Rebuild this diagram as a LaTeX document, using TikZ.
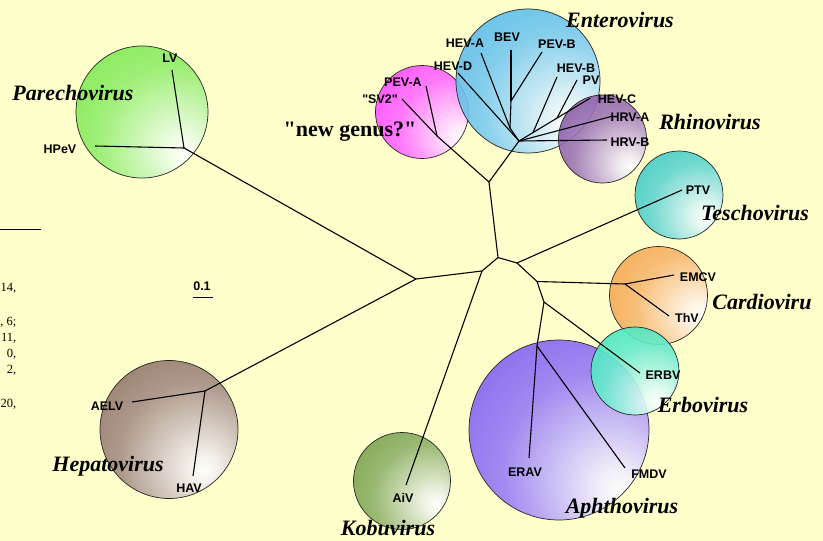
\documentclass[tikz,border=0pt]{standalone}
\usepackage{fontspec}
\setmainfont{Liberation Serif}
\newfontfamily\labfont{Liberation Sans}
\definecolor{bgcol}{HTML}{FFFFCC}
\definecolor{cpar}{HTML}{72E840}
\definecolor{chep}{HTML}{86675A}
\definecolor{ckob}{HTML}{6A9838}
\definecolor{caph}{HTML}{7552F2}
\definecolor{cerb}{HTML}{34E4BA}
\definecolor{ccar}{HTML}{F5A040}
\definecolor{ctes}{HTML}{2CC6C0}
\definecolor{crhi}{HTML}{7E4A9E}
\definecolor{cent}{HTML}{48B6EA}
\definecolor{cnew}{HTML}{FF3CFF}
\newcommand\virshade[4]{\pgfdeclareradialshading{#1}{\pgfpoint{#2bp}{#3bp}}{color(0bp)=(white); color(5bp)=(white!90!#4); color(28bp)=(#4!75!white); color(48bp)=(#4); color(100bp)=(#4)}}
\virshade{shpar}{16}{-16}{cpar}
\virshade{shhep}{13}{-15}{chep}
\virshade{shkob}{18}{-12}{ckob}
\virshade{shaph}{17}{-17}{caph}
\virshade{sherb}{13}{-18}{cerb}
\virshade{shcar}{22}{-10}{ccar}
\virshade{shtes}{16}{-13}{ctes}
\virshade{shrhi}{16}{-16}{crhi}
\virshade{shent}{15}{-15}{cent}
\virshade{shnew}{22}{-14}{cnew}
\begin{document}
\begin{tikzpicture}[x=1pt,y=-1pt,
  branch/.style={line width=1.1pt, black},
  vlabel/.style={font=\labfont\bfseries\fontsize{12.5}{13}\selectfont, inner sep=0pt},
  genus/.style={font=\bfseries\itshape\fontsize{22}{24}\selectfont, inner sep=0pt},
  plain/.style={font=\bfseries\fontsize{22}{24}\selectfont, inner sep=0pt},
  frag/.style={font=\fontsize{12.5}{13}\selectfont, inner sep=0pt, anchor=east},
  clade/.style={circle, draw=black!85, line width=0.7pt, fill opacity=0.9, inner sep=0pt, shade}]
\useasboundingbox (0,0) rectangle (823,541);
\fill[bgcol] (0,0) rectangle (823,541);

% clade circles
\node[clade, minimum size=132pt, shading=shpar] (cPar) at (142,112) {};
\node[clade, minimum size=138pt, shading=shhep] (cHep) at (169,429.5) {};
\node[clade, minimum size=97pt, shading=shkob] (cKob) at (402,481) {};
\node[clade, minimum size=180pt, shading=shaph] (cAph) at (559,430) {};
\node[clade, minimum size=98pt, shading=shcar] (cCar) at (658.5,295.5) {};
\node[clade, minimum size=88pt, shading=sherb] (cErb) at (635,371) {};
\node[clade, minimum size=88pt, shading=shtes] (cTes) at (679,195) {};
\node[clade, minimum size=93pt, shading=shnew] (cNew) at (422,112) {};
\node[clade, minimum size=144pt, shading=shent] (cEnt) at (528,81) {};
\node[clade, minimum size=88pt, shading=shrhi] (cRhi) at (602.5,139) {};

% internal tree coordinates
\coordinate (C0) at (498,257.5);
\coordinate (N1) at (489,182);
\coordinate (E0) at (519,141);
\coordinate (Ea) at (510,128);
\coordinate (Eb) at (511,101);
\coordinate (Ed) at (533,132.6);
\coordinate (Ee) at (557,118.1);
\coordinate (G0) at (437,136);
\coordinate (L1) at (482,271);
\coordinate (L2) at (416,279);
\coordinate (Pn) at (184,148);
\coordinate (Hn) at (205,391);
\coordinate (R1) at (517,263);
\coordinate (R2) at (537,281.5);
\coordinate (Cn) at (625,284);
\coordinate (R3) at (544,302);
\coordinate (An) at (537,346);
% leaf ends
\coordinate (LVe) at (172,70);
\coordinate (HPeVe) at (95,146);
\coordinate (AELVe) at (132,402);
\coordinate (HAVe) at (193,476);
\coordinate (AiVe) at (406,485);
\coordinate (ERAVe) at (529,458);
\coordinate (FMDVe) at (625,468);
\coordinate (ERBVe) at (640,373);
\coordinate (EMCVe) at (674,275);
\coordinate (ThVe) at (669,316);
\coordinate (PTVe) at (682,190);
\coordinate (HRVBe) at (607,140);
\coordinate (HRVAe) at (613,116);
\coordinate (HEVCe) at (590,98.3);
\coordinate (PVe) at (577,80);
\coordinate (HEVBe) at (557,77);
\coordinate (PEVBe) at (542,52);
\coordinate (BEVe) at (511,50);
\coordinate (HEVAe) at (481,53);
\coordinate (HEVDe) at (458,73);
\coordinate (PEVAe) at (426,86);
\coordinate (SV2e) at (402,99);

% branches
\draw[branch] (C0) -- (N1);
\draw[branch] (N1) -- (E0);
\draw[branch] (N1) -- (G0);
\draw[branch] (G0) -- (PEVAe);
\draw[branch] (G0) -- (SV2e);
\draw[branch] (E0) -- (HRVBe);
\draw[branch] (E0) -- (HRVAe);
\draw[branch] (E0) -- (Ed);
\draw[branch] (Ed) -- (Ee);
\draw[branch] (Ee) -- (HEVCe);
\draw[branch] (Ee) -- (PVe);
\draw[branch] (Ed) -- (HEVBe);
\draw[branch] (E0) -- (Ea);
\draw[branch] (Ea) -- (HEVAe);
\draw[branch] (Ea) -- (Eb);
\draw[branch] (Eb) -- (BEVe);
\draw[branch] (Eb) -- (PEVBe);
\draw[branch] (E0) -- (HEVDe);
\draw[branch] (C0) -- (L1);
\draw[branch] (L1) -- (L2);
\draw[branch] (L1) -- (AiVe);
\draw[branch] (L2) -- (Pn);
\draw[branch] (Pn) -- (LVe);
\draw[branch] (Pn) -- (HPeVe);
\draw[branch] (L2) -- (Hn);
\draw[branch] (Hn) -- (AELVe);
\draw[branch] (Hn) -- (HAVe);
\draw[branch] (C0) -- (R1);
\draw[branch] (R1) -- (PTVe);
\draw[branch] (R1) -- (R2);
\draw[branch] (R2) -- (Cn);
\draw[branch] (Cn) -- (EMCVe);
\draw[branch] (Cn) -- (ThVe);
\draw[branch] (R2) -- (R3);
\draw[branch] (R3) -- (ERBVe);
\draw[branch] (R3) -- (An);
\draw[branch] (An) -- (ERAVe);
\draw[branch] (An) -- (FMDVe);

% virus labels
\node[vlabel] (tLV) at (170,58) {LV};
\node[vlabel] (tHPeV) at (60,149) {HPeV};
\node[vlabel] (tAELV) at (107,406) {AELV};
\node[vlabel] (tHAV) at (189,488) {HAV};
\node[vlabel] (tAiV) at (403,498) {AiV};
\node[vlabel] (tERAV) at (525,472) {ERAV};
\node[vlabel] (tFMDV) at (649,474) {FMDV};
\node[vlabel] (tERBV) at (663,375) {ERBV};
\node[vlabel] (tEMCV) at (698,277) {EMCV};
\node[vlabel] (tThV) at (687,318) {ThV};
\node[vlabel] (tPTV) at (698,190) {PTV};
\node[vlabel] (tHRVB) at (630,142) {HRV-B};
\node[vlabel] (tHRVA) at (630,117) {HRV-A};
\node[vlabel] (tHEVC) at (617,99) {HEV-C};
\node[vlabel] (tPV) at (591,80) {PV};
\node[vlabel] (tHEVB) at (576,68) {HEV-B};
\node[vlabel] (tPEVB) at (557,44) {PEV-B};
\node[vlabel] (tBEV) at (507,37) {BEV};
\node[vlabel] (tHEVA) at (465,43) {HEV-A};
\node[vlabel] (tHEVD) at (453,66) {HEV-D};
\node[vlabel] (tPEVA) at (403,82) {PEV-A};
\node[vlabel] (tSV2) at (380,99) {\textquotedbl SV2\textquotedbl};

% genus labels
\node[genus] (gPar) at (73,93) {Parechovirus};
\node[genus] (gHep) at (108,466) {Hepatovirus};
\node[genus] (gKob) at (388,528) {Kobuvirus};
\node[genus] (gAph) at (622,508) {Aphthovirus};
\node[genus] (gErb) at (703,405) {Erbovirus};
\node[genus] (gCar) at (762,302) {Cardioviru};
\node[genus] (gTes) at (755,213) {Teschovirus};
\node[genus] (gRhi) at (710,122) {Rhinovirus};
\node[genus] (gEnt) at (620,20) {Enterovirus};
\node[plain] (gNew) at (350,132) {\textquotedbl new genus?\textquotedbl};

% scale bar
\node[vlabel] (sbt) at (202,286) {0.1};
\coordinate (sbA) at (193,297);
\coordinate (sbB) at (213,297);
\draw[line width=1pt] (sbA) -- (sbB);

% left-edge fragments
\coordinate (fl1) at (0,229.3);
\coordinate (fl2) at (40.7,229.3);
\draw[line width=0.8pt] (fl1) -- (fl2);
\node[frag] (f1) at (16.5,288) {14,};
\node[frag] (f2) at (16.5,322) {, 6;};
\node[frag] (f3) at (16.5,338) {11,};
\node[frag] (f4) at (16.5,354) {0,};
\node[frag] (f5) at (16.5,370) {2,};
\node[frag] (f6) at (16.5,404) {20,};
\end{tikzpicture}
\end{document}
